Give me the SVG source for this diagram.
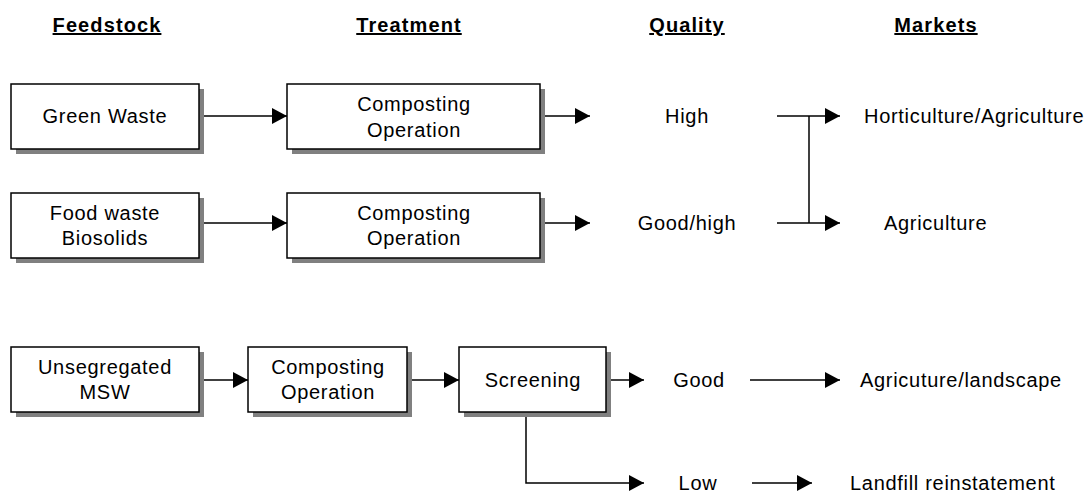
<svg xmlns="http://www.w3.org/2000/svg" width="1090" height="493" viewBox="0 0 1090 493">
<style>
  text { font-family: "Liberation Sans", Arial, sans-serif; font-size: 20px; fill: #000; letter-spacing: 0.7px; }
  .hdr { font-weight: bold; text-decoration: underline; text-anchor: middle; letter-spacing: 1.1px; }
  .c { text-anchor: middle; }
  .box { fill: #fff; stroke: #000; stroke-width: 1.5; }
  .shadow { fill: #808080; stroke: none; }
  .conn { fill: none; stroke: #000; stroke-width: 1.5; }
</style>
<defs>
  <marker id="arr" viewBox="0 0 15 16" refX="15" refY="8" markerWidth="15" markerHeight="16" markerUnits="userSpaceOnUse" orient="auto">
    <path d="M0,0 L15,8 L0,16 z" fill="#000"/>
  </marker>
</defs>
<rect width="1090" height="493" fill="#fff"/>

<g id="headers">
  <text class="hdr" x="107" y="32">Feedstock</text>
  <text class="hdr" x="409" y="32">Treatment</text>
  <text class="hdr" x="687" y="32">Quality</text>
  <text class="hdr" x="936" y="32">Markets</text>
</g>

<g id="connectors">
  <line class="conn" x1="199" y1="116" x2="287" y2="116" marker-end="url(#arr)"/>
  <line class="conn" x1="540" y1="116" x2="590" y2="116" marker-end="url(#arr)"/>
  <line class="conn" x1="199" y1="223" x2="287" y2="223" marker-end="url(#arr)"/>
  <line class="conn" x1="540" y1="223" x2="590" y2="223" marker-end="url(#arr)"/>
  <line class="conn" x1="777" y1="116" x2="840" y2="116" marker-end="url(#arr)"/>
  <line class="conn" x1="777" y1="223" x2="840" y2="223" marker-end="url(#arr)"/>
  <line class="conn" x1="809" y1="116" x2="809" y2="223"/>
  <line class="conn" x1="199" y1="380" x2="248" y2="380" marker-end="url(#arr)"/>
  <line class="conn" x1="407" y1="380" x2="459" y2="380" marker-end="url(#arr)"/>
  <line class="conn" x1="606" y1="380" x2="644" y2="380" marker-end="url(#arr)"/>
  <line class="conn" x1="750" y1="380" x2="840" y2="380" marker-end="url(#arr)"/>
  <polyline class="conn" points="526,412 526,483 644,483" marker-end="url(#arr)"/>
  <line class="conn" x1="752" y1="483" x2="812" y2="483" marker-end="url(#arr)"/>
</g>

<g id="n-green">
  <rect class="shadow" x="16" y="89" width="188" height="65"/>
  <rect class="box" x="11" y="84" width="188" height="65"/>
  <text class="c" x="105" y="123">Green Waste</text>
</g>
<g id="n-comp1">
  <rect class="shadow" x="292" y="89" width="253" height="65"/>
  <rect class="box" x="287" y="84" width="253" height="65"/>
  <text class="c" x="414" y="111">Composting</text>
  <text class="c" x="414" y="137">Operation</text>
</g>
<g id="n-food">
  <rect class="shadow" x="16" y="198" width="188" height="65"/>
  <rect class="box" x="11" y="193" width="188" height="65"/>
  <text class="c" x="105" y="220">Food waste</text>
  <text class="c" x="105" y="245">Biosolids</text>
</g>
<g id="n-comp2">
  <rect class="shadow" x="292" y="198" width="253" height="65"/>
  <rect class="box" x="287" y="193" width="253" height="65"/>
  <text class="c" x="414" y="220">Composting</text>
  <text class="c" x="414" y="245">Operation</text>
</g>
<g id="n-unseg">
  <rect class="shadow" x="16" y="352" width="188" height="65"/>
  <rect class="box" x="11" y="347" width="188" height="65"/>
  <text class="c" x="105" y="374">Unsegregated</text>
  <text class="c" x="105" y="399">MSW</text>
</g>
<g id="n-comp3">
  <rect class="shadow" x="253" y="352" width="159" height="65"/>
  <rect class="box" x="248" y="347" width="159" height="65"/>
  <text class="c" x="328" y="374">Composting</text>
  <text class="c" x="328" y="399">Operation</text>
</g>
<g id="n-screen">
  <rect class="shadow" x="464" y="352" width="147" height="65"/>
  <rect class="box" x="459" y="347" width="147" height="65"/>
  <text class="c" x="533" y="387">Screening</text>
</g>

<g id="q-high"><text class="c" x="687" y="123">High</text></g>
<g id="q-goodhigh"><text class="c" x="687" y="230">Good/high</text></g>
<g id="q-good"><text class="c" x="699" y="387">Good</text></g>
<g id="q-low"><text class="c" x="698" y="490">Low</text></g>

<g id="m-hort"><text x="864" y="123">Horticulture/Agriculture</text></g>
<g id="m-agri"><text x="884" y="230">Agriculture</text></g>
<g id="m-agland"><text x="860" y="387">Agricuture/landscape</text></g>
<g id="m-landfill"><text x="850" y="490">Landfill reinstatement</text></g>
</svg>
